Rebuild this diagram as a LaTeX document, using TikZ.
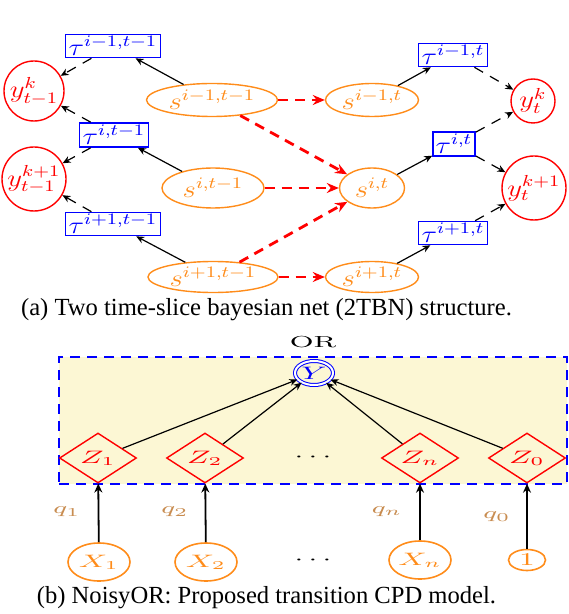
\documentclass[tikz,border=0pt]{standalone}
\usepackage{fontspec}
\usepackage{graphicx}
\newfontfamily\capfont{Liberation Serif}
\usetikzlibrary{shapes.geometric,arrows.meta}
\definecolor{sorange}{RGB}{255,140,26}
\definecolor{qcol}{RGB}{200,140,80}
\definecolor{bgyel}{RGB}{252,247,212}
\newcommand\tsx[1]{\scalebox{1.2}[1]{$#1$}}
\newcommand\bsx[1]{\scalebox{1.7}[1]{$#1$}}
\tikzset{
 tbox/.style={draw=blue, line width=0.8pt, text=blue, inner sep=0pt, font=\fontsize{12}{14}\selectfont},
 snode/.style={ellipse, draw=sorange, line width=0.7pt, text=sorange, inner sep=0pt, font=\fontsize{12}{14}\selectfont},
 ynode/.style={circle, draw=red, line width=0.7pt, text=red, inner sep=0pt, font=\fontsize{12}{14}\selectfont},
 solidarr/.style={-{Stealth[length=4pt,width=3.5pt]}, line width=0.6pt},
 dasharr/.style={-{Stealth[length=4pt,width=3.5pt]}, line width=0.6pt, dash pattern=on 5pt off 4pt},
 redarr/.style={-{Stealth[length=6pt,width=5pt]}, red, line width=1.4pt, dash pattern=on 5pt off 3.5pt},
 znode/.style={diamond, aspect=1.54, draw=red, text=red, line width=0.7pt, inner sep=0pt, minimum width=38.5pt, minimum height=25pt, font=\fontsize{9}{11}\selectfont},
 xnode/.style={ellipse, draw=sorange, text=sorange, line width=0.8pt, inner sep=0pt, font=\fontsize{9}{11}\selectfont},
 qlab/.style={text=qcol, inner sep=0pt, font=\fontsize{8}{10}\selectfont},
 zarr/.style={-{Stealth[length=4pt,width=3.5pt]}, line width=0.6pt},
 xarr/.style={-{Stealth[length=4.5pt,width=4pt]}, line width=0.9pt},
 capt/.style={inner sep=0pt, font=\capfont\fontsize{12.3}{14}\selectfont},
}
\begin{document}
\begin{tikzpicture}[x=0.5pt,y=-0.5pt]
\useasboundingbox (0,0) rectangle (568,614);
% ---------- (a) ----------
\node[tbox, minimum width=47.5pt, minimum height=11.5pt] (ta1) at (113,46) {\tsx{\tau^{i-1,t-1}}};
\node[tbox, minimum width=34.5pt, minimum height=12pt] (ta2) at (114,135) {\tsx{\tau^{i,t-1}}};
\node[tbox, minimum width=47.5pt, minimum height=11.5pt] (ta3) at (113,224) {\tsx{\tau^{i+1,t-1}}};
\node[ynode, minimum size=30pt] (ya1) at (34,91) {\tsx{y^{k}_{t-1}}};
\node[ynode, minimum size=32pt] (ya2) at (34,179) {\tsx{y^{k+1}_{t-1}}};
\node[snode, minimum width=65.5pt, minimum height=16.5pt] (sa1) at (212,100) {\tsx{s^{i-1,t-1}}};
\node[snode, minimum width=51pt, minimum height=20pt] (sa2) at (213,188) {\tsx{s^{i,t-1}}};
\node[snode, minimum width=65pt, minimum height=15.5pt] (sa3) at (213,277) {\tsx{s^{i+1,t-1}}};
\node[snode, minimum width=46.5pt, minimum height=16.5pt] (sb1) at (372,100) {\tsx{s^{i-1,t}}};
\node[snode, minimum width=32.5pt, minimum height=20pt] (sb2) at (372,188) {\tsx{s^{i,t}}};
\node[snode, minimum width=46.5pt, minimum height=15.5pt] (sb3) at (372,277) {\tsx{s^{i+1,t}}};
\node[tbox, minimum width=34.5pt, minimum height=11.5pt] (tb1) at (453,55) {\tsx{\tau^{i-1,t}}};
\node[tbox, minimum width=21pt, minimum height=12pt] (tb2) at (454,144) {\tsx{\tau^{i,t}}};
\node[tbox, minimum width=34.5pt, minimum height=11.5pt] (tb3) at (453,233) {\tsx{\tau^{i+1,t}}};
\node[ynode, minimum size=22pt] (yb1) at (533,101) {\tsx{y^{k}_{t}}};
\node[ynode, minimum size=32pt] (yb2) at (534,188) {\tsx{y^{k+1}_{t}}};

\draw[solidarr] (sa1) -- (ta1);
\draw[solidarr] (sa2) -- (ta2);
\draw[solidarr] (sa3) -- (ta3);
\draw[solidarr] (sb1) -- (tb1);
\draw[solidarr] (sb2) -- (tb2);
\draw[solidarr] (sb3) -- (tb3);
\draw[dasharr] (ta1) -- (ya1);
\draw[dasharr] (ta2) -- (ya1);
\draw[dasharr] (ta2) -- (ya2);
\draw[dasharr] (ta3) -- (ya2);
\draw[dasharr] (tb1) -- (yb1);
\draw[dasharr] (tb2) -- (yb1);
\draw[dasharr] (tb2) -- (yb2);
\draw[dasharr] (tb3) -- (yb2);
\draw[redarr] (sa1) -- (sb1);
\draw[redarr] (sa1) -- (sb2);
\draw[redarr] (sa2) -- (sb2);
\draw[redarr] (sa3) -- (sb2);
\draw[redarr] (sa3) -- (sb3);

\node[capt] (capa) at (266.5,310) {(a) Two time-slice bayesian net (2TBN) structure.};

% ---------- (b) ----------
\node[draw=blue, fill=bgyel, line width=0.8pt, dash pattern=on 5pt off 3.5pt, minimum width=254pt, minimum height=63.5pt, inner sep=0pt] (orbox) at (313,420.5) {};
\node[inner sep=0pt, font=\fontsize{8}{10}\selectfont] (orlab) at (313,342) {\scalebox{1.8}[1]{OR}};
\node[ellipse, double, draw=blue, double distance=1pt, line width=0.5pt, text=blue, inner sep=0pt, minimum width=19pt, minimum height=12pt, font=\fontsize{9}{11}\selectfont] (Y) at (314,373) {\bsx{Y}};
\node[znode] (z1) at (98,458) {\bsx{Z_1}};
\node[znode] (z2) at (205,458) {\bsx{Z_2}};
\node[inner sep=0pt, font=\fontsize{9}{11}\selectfont] (zd) at (313,457) {\bsx{\cdots}};
\node[znode] (zn) at (420,458) {\bsx{Z_n}};
\node[znode] (z0) at (527,458) {\bsx{Z_0}};
\node[xnode, minimum width=31pt, minimum height=19pt] (x1) at (99,562) {\bsx{X_1}};
\node[xnode, minimum width=31pt, minimum height=19pt] (x2) at (206,562) {\bsx{X_2}};
\node[inner sep=0pt, font=\fontsize{9}{11}\selectfont] (xd) at (313,560) {\bsx{\cdots}};
\node[xnode, minimum width=31pt, minimum height=19pt] (xn) at (420,560) {\bsx{X_n}};
\node[xnode, minimum width=18.5pt, minimum height=10.5pt] (x0) at (527,560) {\bsx{1}};
\node[qlab] (q1) at (67,512) {\bsx{q_1}};
\node[qlab] (q2) at (175,512) {\bsx{q_2}};
\node[qlab] (qn) at (387,512) {\bsx{q_n}};
\node[qlab] (q0) at (497,517) {\bsx{q_0}};

\draw[zarr] (z1) -- (Y);
\draw[zarr] (z2) -- (Y);
\draw[zarr] (zn) -- (Y);
\draw[zarr] (z0) -- (Y);
\draw[xarr] (x1) -- (z1);
\draw[xarr] (x2) -- (z2);
\draw[xarr] (xn) -- (zn);
\draw[xarr] (x0) -- (z0);

\node[capt] (capb) at (266.5,598) {(b) NoisyOR: Proposed transition CPD model.};
\end{tikzpicture}
\end{document}
